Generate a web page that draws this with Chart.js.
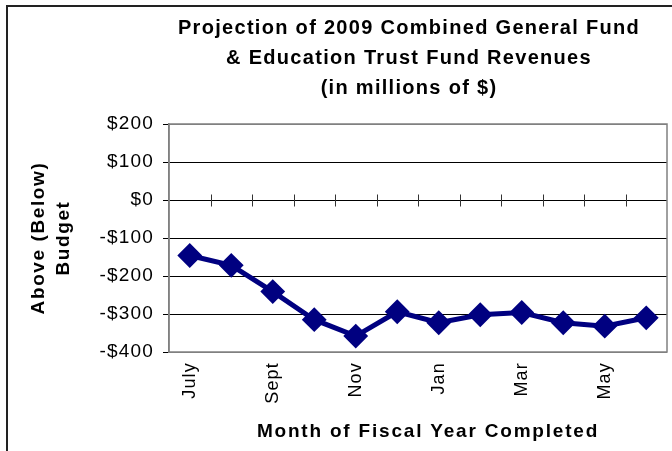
<!DOCTYPE html>
<html>
<head>
<meta charset="utf-8">
<script src="https://cdn.jsdelivr.net/npm/chart.js@4/dist/chart.umd.min.js"></script>
<style>
    html, body { margin: 0; padding: 0; background: #fff; }
    #wrap { position: relative; width: 672px; height: 451px; }
</style>
</head>
<body>
<div id="wrap"><canvas id="revenueChart"></canvas></div>
<script>
const months = ["July", "Aug", "Sept", "Oct", "Nov", "Dec", "Jan", "Feb", "Mar", "Apr", "May", "June"];
const aboveBelowBudget = [-146, -172, -241, -315, -358, -294, -323, -302, -296, -323, -332, -310];
const yMin = -400;
const yMax = 200;
const yStep = 100;

const titleLines = [
    "Projection of 2009 Combined General Fund",
    "& Education Trust Fund Revenues",
    "(in millions of $)"
];
const xAxisTitle = "Month of Fiscal Year Completed";
const yAxisTitle = ["Above (Below)", "Budget"];

const FONT = "Arial, 'Liberation Sans', sans-serif";
const NAVY = "#000080";

function formatDollars(value) {
    return value < 0 ? `-$${-value}` : `$${value}`;
}

// outer frame, plot box, zero-line ticks and the bold titles
const frameAndTitles = {
    id: "frameAndTitles",
    beforeDraw(chart) {
        const { ctx } = chart;
        ctx.save();
        ctx.strokeStyle = "#222";
        ctx.lineWidth = 2;
        ctx.beginPath();
        ctx.moveTo(7, chart.height);
        ctx.lineTo(7, 6);
        ctx.lineTo(chart.width, 6);
        ctx.stroke();
        ctx.restore();
        ctx.letterSpacing = "1.2px";
    },
    beforeDatasetsDraw(chart) {
        const { ctx, chartArea: area, scales: { x, y } } = chart;
        ctx.save();
        ctx.strokeStyle = "#808080";
        ctx.lineWidth = 1.5;
        ctx.strokeRect(area.left, area.top, area.width, area.height);

        const zero = Math.round(y.getPixelForValue(0)) + 0.5;
        const half = (x.getPixelForValue(1) - x.getPixelForValue(0)) / 2;
        ctx.strokeStyle = "#333";
        ctx.lineWidth = 1;
        ctx.beginPath();
        for (let i = 1; i < months.length; i++) {
            const px = Math.round(x.getPixelForValue(i) - half) + 0.5;
            ctx.moveTo(px, zero - 6);
            ctx.lineTo(px, zero + 6);
        }
        ctx.stroke();
        ctx.restore();
    },
    afterDraw(chart) {
        const { ctx, chartArea: area } = chart;
        ctx.save();
        ctx.fillStyle = "#000";

        ctx.font = `bold 20px ${FONT}`;
        ctx.letterSpacing = "1.3px";
        ctx.textAlign = "center";
        ctx.textBaseline = "alphabetic";
        const titleX = area.left + area.width / 2 - 9;
        [34, 64, 94].forEach((baseline, i) => ctx.fillText(titleLines[i], titleX, baseline));

        ctx.font = `bold 19px ${FONT}`;
        ctx.letterSpacing = "1.8px";
        ctx.fillText(xAxisTitle, area.left + area.width / 2 + 10, 437);

        ctx.letterSpacing = "1.6px";
        ctx.textBaseline = "middle";
        const midY = (area.top + area.bottom) / 2;
        [39, 64].forEach((cx, i) => {
            ctx.save();
            ctx.translate(cx, midY);
            ctx.rotate(-Math.PI / 2);
            ctx.fillText(yAxisTitle[i], 0, 0);
            ctx.restore();
        });
        ctx.restore();
    }
};

const revenueCanvas = document.getElementById("revenueChart");
const revenueChart = new Chart(revenueCanvas, {
    type: "line",
    data: {
        labels: months,
        datasets: [{
            label: "Above (Below) Budget",
            data: aboveBelowBudget,
            borderColor: NAVY,
            backgroundColor: NAVY,
            borderWidth: 5,
            pointStyle: "rectRot",
            pointRadius: 11,
            pointBorderWidth: 2,
            pointBackgroundColor: NAVY,
            pointBorderColor: NAVY,
            tension: 0,
            clip: false
        }]
    },
    options: {
        responsive: true,
        maintainAspectRatio: false,
        animation: false,
        layout: {
            autoPadding: false,
            padding: { top: 124, right: 5, bottom: 0, left: 0 }
        },
        plugins: {
            legend: { display: false },
            title: { display: false },
            tooltip: { enabled: false }
        },
        scales: {
            x: {
                offset: true,
                grid: { display: false, drawTicks: false },
                border: { display: false },
                ticks: {
                    autoSkip: false,
                    minRotation: 90,
                    maxRotation: 90,
                    padding: 10,
                    color: "#000",
                    font: { family: FONT, size: 18 },
                    callback: (value, index) => index % 2 === 0 ? months[index] : ""
                },
                afterFit: (scale) => {
                    scale.height = 99;
                    scale.paddingLeft = 0;
                    scale.paddingRight = 0;
                }
            },
            y: {
                min: yMin,
                max: yMax,
                grid: {
                    color: (ctx) => (ctx.tick && (ctx.tick.value === yMax || ctx.tick.value === yMin)) ? "#808080" : "#000",
                    tickColor: "#000",
                    tickLength: 6,
                    lineWidth: 1
                },
                border: { display: true, color: "#808080", width: 1.5 },
                ticks: {
                    stepSize: yStep,
                    padding: 9,
                    color: "#000",
                    font: { family: FONT, size: 19 },
                    callback: (value) => formatDollars(value)
                },
                afterFit: (scale) => { scale.width = 169; }
            }
        }
    },
    plugins: [frameAndTitles]
});
</script>
</body>
</html>
